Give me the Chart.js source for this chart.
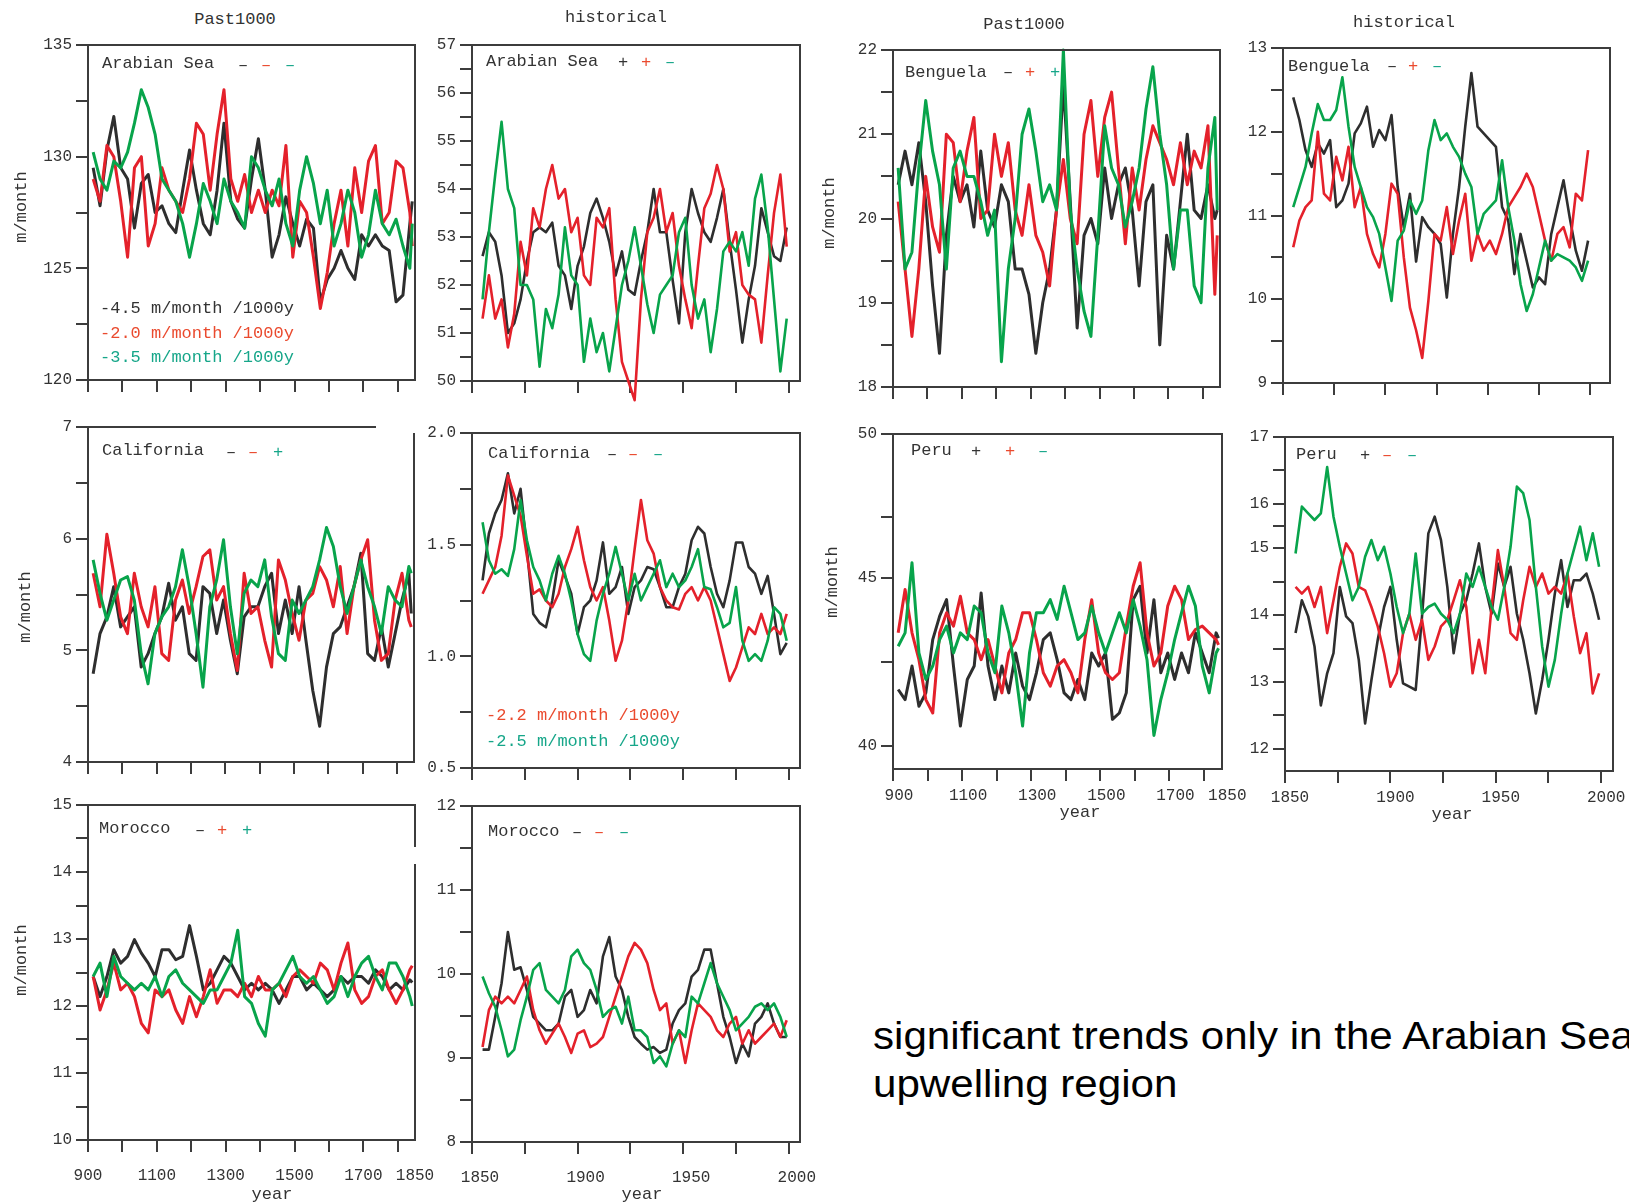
<!DOCTYPE html>
<html>
<head>
<meta charset="utf-8">
<title>Upwelling index, Past1000 and historical</title>
<script src="https://cdn.jsdelivr.net/npm/chart.js@4.4.1/dist/chart.umd.min.js"></script>
<style>
  html, body { margin: 0; padding: 0; background: #fff; }
  body { position: relative; width: 1629px; height: 1204px; overflow: hidden;
         font-family: "Liberation Mono", "DejaVu Sans Mono", monospace; color: #333; }
  canvas { position: absolute; }
  .t { position: absolute; white-space: nowrap; font-size: 17px; line-height: 20px; z-index: 2; }
  .c { transform: translate(-50%, -50%); }
  .l { transform: translateY(-50%); }
  .v { transform: translate(-50%, -50%) rotate(-90deg); }
  .note { position: absolute; left: 873px; top: 1012px; font-family: "Liberation Sans", Arial, sans-serif;
          font-size: 39px; line-height: 48px; color: #000; white-space: nowrap;
          transform: scaleX(1.08); transform-origin: left top; }
</style>
</head>
<body>
<div class="note">significant trends only in the Arabian Sea<br>upwelling region</div>
<script>
/* ===============================
   DATA (m/month)
   =============================== */

const yearsPast = [915, 935, 955, 975, 995, 1015, 1035, 1055, 1075, 1095, 1115, 1135, 1155, 1175, 1195, 1215,
  1235, 1255, 1275, 1295, 1315, 1335, 1355, 1375, 1395, 1415, 1435, 1455, 1475, 1495, 1515, 1535,
  1555, 1575, 1595, 1615, 1635, 1655, 1675, 1695, 1715, 1735, 1755, 1775, 1795, 1815, 1835, 1842];

const yearsHist = [1855, 1858, 1861, 1864, 1867, 1870, 1873, 1876, 1879, 1882, 1885, 1888, 1891, 1894, 1897,
  1900, 1903, 1906, 1909, 1912, 1915, 1918, 1921, 1924, 1927, 1930, 1933, 1936, 1939, 1942, 1945,
  1948, 1951, 1954, 1957, 1960, 1963, 1966, 1969, 1972, 1975, 1978, 1981, 1984, 1987, 1990, 1993, 1996, 1999];

// Arabian Sea
const arabPastBlack = [129.5,127.8,130.3,131.8,129.5,129.0,126.8,128.8,129.2,127.5,127.8,127.0,126.6,128.5,130.3,128.5,
  127.0,126.5,128.5,131.5,128.0,127.2,126.8,129.0,130.8,128.5,125.5,126.5,128.2,127.0,126.0,127.2,
  126.8,123.5,124.5,125.0,125.8,125.0,124.5,126.5,126.0,126.5,126.0,125.8,123.5,123.8,127.0,128.0];
const arabPastRed = [129.0,128.0,130.5,130.0,128.0,125.5,129.5,130.0,126.0,127.0,129.5,128.5,128.0,127.5,129.0,131.5,
  131.0,128.5,131.0,133.0,129.0,128.0,129.2,127.5,128.5,127.5,128.5,127.8,130.5,125.5,128.0,127.5,
  125.5,123.2,124.8,127.0,128.5,126.0,129.5,127.5,129.8,130.5,127.0,127.5,129.8,129.5,127.5,126.0];
const arabPastGreen = [130.2,129.0,128.5,129.8,129.5,130.2,131.5,133.0,132.2,131.0,129.0,128.5,128.0,127.0,125.5,127.0,
  128.8,128.0,127.0,129.0,128.0,127.5,126.8,130.0,129.5,128.5,127.8,129.0,127.0,126.0,128.5,130.0,
  128.8,127.0,128.5,126.0,127.0,128.5,127.5,125.5,126.5,128.5,127.0,126.5,127.2,126.0,125.0,127.0];

const arabHistBlack = [52.6,53.1,52.9,52.2,51.0,51.2,51.7,52.5,53.1,53.2,53.1,53.3,52.4,52.2,51.5,52.4,52.8,
  53.5,53.8,53.4,52.9,52.2,52.7,51.9,51.8,52.5,53.1,54.0,53.1,53.1,52.1,51.2,53.1,54.0,53.5,53.1,
  52.9,53.4,54.0,52.9,51.9,50.8,51.7,52.4,53.6,53.1,52.6,52.5,53.2];
const arabHistRed = [51.3,52.2,51.3,51.7,50.7,51.4,52.9,52.2,53.6,53.2,54.0,54.5,53.8,54.0,53.1,53.4,52.2,
  52.0,53.4,53.2,53.6,51.7,50.4,50.0,49.6,51.7,53.1,53.4,54.0,53.1,53.5,52.4,51.7,51.1,52.4,53.6,
  53.9,54.5,54.0,52.7,53.1,52.0,51.8,51.7,50.8,52.2,53.5,54.3,52.8];
const arabHistGreen = [51.7,53.1,54.3,55.4,54.0,53.6,52.0,52.0,51.7,50.3,51.5,51.1,51.8,53.2,52.2,52.0,50.4,
  51.3,50.6,51.0,50.2,51.1,52.0,52.5,53.2,52.4,51.6,51.0,51.8,52.0,52.2,53.1,53.4,52.0,51.3,51.7,
  50.6,51.5,52.7,52.9,52.7,53.1,52.4,53.8,54.3,53.2,51.7,50.2,51.3];

// Benguela
const bengPastBlack = [20.4,20.8,20.4,20.9,20.2,19.2,18.4,19.8,20.5,20.2,20.4,19.9,20.8,20.1,19.9,20.4,
  20.2,19.4,19.4,19.1,18.4,19.0,19.4,20.1,21.6,20.2,18.7,19.8,20.0,19.7,20.6,20.0,
  20.4,20.6,20.1,19.2,20.2,20.4,18.5,19.8,19.4,20.2,21.0,20.1,20.0,20.4,20.0,20.1];
const bengPastRed = [20.2,19.4,18.6,19.4,20.5,19.9,19.6,21.0,20.9,20.2,20.8,21.2,20.0,20.1,21.0,20.5,
  20.9,20.1,19.8,20.4,19.8,19.6,19.2,20.1,20.7,20.0,19.7,21.0,21.4,20.5,21.2,21.5,
  20.6,19.7,20.6,20.1,20.7,21.1,20.9,20.7,20.4,20.9,20.4,20.8,20.6,21.1,19.1,19.8];
const bengPastGreen = [20.6,19.4,19.6,20.6,21.4,20.8,20.4,19.4,20.6,20.8,20.5,20.5,20.2,19.8,20.1,18.3,
  19.4,20.0,21.0,21.3,20.8,20.2,20.4,20.1,22.0,20.1,19.4,18.9,18.6,19.8,21.1,20.6,
  20.4,19.9,20.2,20.6,21.3,21.8,21.0,20.4,19.4,20.1,20.1,19.2,19.0,20.6,21.2,20.1];

const bengHistBlack = [12.41,12.14,11.78,11.58,11.86,11.74,11.9,11.1,11.18,11.38,11.98,12.1,12.3,11.82,12.02,11.9,
  12.2,11.34,10.86,11.26,10.45,10.98,10.86,10.78,10.66,10.02,10.78,11.34,12.06,12.7,12.06,11.98,
  11.9,11.82,11.1,10.94,10.3,10.78,10.46,10.14,10.26,10.18,10.78,11.1,11.42,10.98,10.58,10.34,10.7];
const bengHistRed = [10.62,10.94,11.1,11.18,12.0,11.26,11.18,11.7,11.42,11.82,11.1,11.34,10.78,10.54,10.38,10.78,
  11.38,11.26,10.5,9.9,9.63,9.3,9.98,10.78,10.7,11.1,10.54,10.94,11.26,10.46,10.78,10.58,
  10.7,10.54,10.78,11.1,11.22,11.34,11.5,11.34,11.02,10.7,10.46,10.78,10.86,10.62,11.26,11.18,11.78];
const bengHistGreen = [11.1,11.34,11.58,11.98,12.33,12.14,12.14,12.26,12.65,12.06,11.58,11.34,11.1,10.98,10.78,10.38,
  9.98,10.7,10.82,11.18,11.02,11.18,11.78,12.14,11.9,11.98,11.82,11.7,11.5,11.34,10.78,11.02,
  11.1,11.18,11.66,11.1,10.7,10.18,9.86,10.06,10.38,10.7,10.46,10.54,10.5,10.46,10.38,10.22,10.46];

// California
const califPastBlack = [4.79,5.15,5.3,5.57,5.21,5.3,5.39,4.85,4.97,5.15,5.3,5.6,5.27,5.39,4.97,4.91,
  5.57,5.51,5.15,5.45,5.09,4.79,5.3,5.39,5.39,5.57,5.69,5.15,5.45,5.15,5.57,5.09,
  4.64,4.32,4.85,5.15,5.21,5.39,5.57,5.87,4.97,4.91,5.21,4.85,5.15,5.45,5.69,5.33];
const califPastRed = [5.69,5.39,6.04,5.69,5.3,5.15,5.69,5.39,5.21,5.57,4.97,4.91,5.45,5.63,5.33,5.57,
  5.84,5.9,5.45,5.57,5.15,4.82,5.69,5.33,5.39,5.09,4.85,5.81,5.63,5.33,5.09,5.45,
  5.51,5.75,5.63,5.39,5.75,5.15,5.57,5.81,5.99,5.27,4.91,4.97,5.45,5.69,5.27,5.21];
const califPastGreen = [5.81,5.51,5.27,5.45,5.63,5.66,5.45,4.97,4.7,5.15,5.3,5.39,5.57,5.9,5.57,5.15,
  4.67,5.39,5.63,5.99,5.39,4.97,5.51,5.63,5.57,5.81,5.3,4.97,4.91,5.45,5.33,5.45,
  5.57,5.81,6.1,5.93,5.57,5.33,5.57,5.81,5.57,5.39,5.15,5.57,5.45,5.39,5.75,5.69];

const califHistBlack = [1.34,1.55,1.64,1.7,1.82,1.64,1.75,1.48,1.19,1.15,1.13,1.25,1.43,1.36,1.28,1.1,1.22,
  1.25,1.34,1.51,1.28,1.31,1.4,1.19,1.31,1.34,1.4,1.39,1.31,1.22,1.22,1.31,1.37,1.52,1.58,1.55,
  1.4,1.28,1.22,1.34,1.51,1.51,1.4,1.37,1.28,1.36,1.19,1.01,1.06];
const califHistRed = [1.28,1.34,1.4,1.54,1.81,1.72,1.63,1.45,1.28,1.3,1.25,1.22,1.28,1.4,1.48,1.58,1.43,
  1.31,1.25,1.31,1.16,0.98,1.07,1.25,1.48,1.7,1.52,1.46,1.31,1.25,1.22,1.21,1.28,1.31,1.25,1.31,
  1.25,1.13,1.01,0.89,0.95,1.04,1.13,1.1,1.19,1.1,1.13,1.1,1.19];
const califHistGreen = [1.6,1.43,1.37,1.39,1.36,1.48,1.7,1.52,1.4,1.34,1.25,1.37,1.45,1.37,1.25,1.1,1.01,
  0.98,1.16,1.28,1.37,1.49,1.37,1.25,1.37,1.25,1.31,1.37,1.43,1.31,1.37,1.31,1.34,1.4,1.48,1.31,
  1.3,1.22,1.13,1.15,1.31,1.07,0.98,1.01,0.98,1.07,1.22,1.19,1.07];

// Peru
const peruPastBlack = [41.67,41.37,42.37,41.17,41.57,43.16,43.86,44.35,42.37,40.58,41.97,42.37,44.55,42.37,41.37,42.37,
  41.57,42.76,41.77,41.37,42.17,43.16,43.36,42.56,41.57,41.37,41.97,41.37,42.76,42.37,42.76,40.78,
  40.97,41.57,44.35,44.75,42.76,44.35,42.17,42.76,41.97,42.76,42.17,43.36,42.76,42.17,43.36,43.2];
const peruPastRed = [43.36,44.65,43.36,42.56,41.37,40.97,43.36,43.96,43.56,44.45,43.36,43.16,42.56,43.16,42.37,41.57,
  42.76,43.16,43.96,43.96,43.16,42.17,41.77,42.37,42.56,42.17,41.57,43.16,44.35,42.76,42.17,41.97,
  42.17,43.56,44.75,45.45,43.36,42.37,42.76,44.16,44.75,44.35,43.16,43.46,43.56,43.36,43.16,43.0];
const peruPastGreen = [42.96,43.36,45.45,42.76,41.97,42.37,43.16,43.56,42.76,43.36,43.16,44.16,43.96,42.76,42.17,44.16,
  43.36,42.17,40.58,42.76,43.96,43.96,44.35,43.76,44.75,43.96,43.16,43.36,44.16,43.36,42.76,43.36,
  43.96,43.36,44.35,43.56,42.56,40.3,41.37,42.17,43.16,43.96,44.75,44.16,42.37,41.57,42.76,42.9];

const peruHistBlack = [13.73,14.22,13.98,13.53,12.65,13.13,13.43,14.42,13.98,13.88,13.33,12.38,13.03,13.63,14.12,14.42,
  13.63,12.98,12.93,12.88,13.98,15.22,15.47,15.12,14.42,13.43,14.02,14.22,14.62,15.07,14.42,14.02,
  14.77,14.42,14.72,14.02,13.63,13.13,12.53,13.03,13.63,14.32,14.82,14.12,14.52,14.52,14.62,14.32,13.93];
const peruHistRed = [14.42,14.32,14.42,14.12,14.42,13.73,14.22,14.72,15.07,14.92,14.42,14.37,14.12,13.83,13.43,12.93,
  13.13,13.73,14.02,13.63,13.93,13.33,13.53,13.83,13.93,14.22,14.52,14.12,13.13,13.63,13.13,14.12,
  14.97,14.42,13.73,13.63,14.22,14.72,14.42,14.62,14.32,14.42,14.32,14.62,13.98,13.43,13.73,12.83,13.13];
const peruHistGreen = [14.92,15.62,15.52,15.42,15.52,16.21,15.47,15.02,14.62,14.22,14.42,14.87,15.12,14.82,15.02,14.62,
  14.12,13.73,14.02,14.92,14.02,14.12,14.17,14.02,13.93,13.73,14.02,14.62,14.42,14.72,14.42,14.12,
  13.93,14.42,15.02,15.92,15.82,15.42,14.42,13.53,12.93,13.33,14.02,14.62,14.97,15.32,14.82,15.22,14.72];

// Morocco
const morPastBlack = [12.44,12.14,12.44,12.84,12.64,12.74,12.99,12.79,12.64,12.44,12.84,12.84,12.69,12.74,13.2,12.74,
  12.24,12.34,12.54,12.74,12.64,12.44,12.24,12.34,12.24,12.34,12.24,12.04,12.24,12.44,12.44,12.24,
  12.34,12.24,12.14,12.24,12.44,12.34,12.44,12.44,12.34,12.54,12.44,12.24,12.34,12.24,12.39,12.35];
const morPastRed = [12.44,11.94,12.24,12.64,12.24,12.34,12.14,11.74,11.6,12.24,12.14,12.24,11.94,11.74,12.14,11.84,
  12.14,12.54,12.04,12.24,12.24,12.14,12.34,12.14,12.44,12.24,12.24,12.34,12.14,12.44,12.54,12.44,
  12.34,12.64,12.54,12.24,12.64,12.94,12.24,12.04,12.14,12.44,12.54,12.24,12.04,12.24,12.54,12.6];
const morPastGreen = [12.44,12.64,12.14,12.74,12.44,12.34,12.24,12.34,12.24,12.44,12.14,12.44,12.54,12.34,12.24,12.14,
  12.04,12.24,12.24,12.44,12.64,13.13,12.14,12.04,11.74,11.55,12.24,12.34,12.54,12.74,12.44,12.34,
  12.44,12.24,12.04,12.14,12.44,12.14,12.44,12.64,12.74,12.44,12.24,12.64,12.64,12.44,12.14,12.0];

const morHistBlack = [9.1,9.1,9.49,9.89,10.5,10.05,10.08,9.81,9.49,9.41,9.33,9.33,9.41,9.73,9.81,9.49,9.57,
  9.81,9.65,10.21,10.44,9.97,9.81,9.49,9.25,9.17,9.1,9.13,9.06,9.1,9.41,9.57,9.65,9.97,10.05,10.29,
  10.29,9.89,9.49,9.25,8.94,9.17,9.02,9.41,9.49,9.65,9.41,9.25,9.25];
const morHistRed = [9.13,9.57,9.73,9.65,9.73,9.65,9.81,9.97,9.57,9.33,9.17,9.29,9.41,9.25,9.06,9.29,9.33,
  9.13,9.17,9.25,9.49,9.73,9.97,10.21,10.37,10.29,10.13,9.81,9.57,9.65,9.17,9.33,8.94,9.33,9.65,9.57,
  9.49,9.33,9.25,9.41,9.49,9.17,9.33,9.17,9.25,9.33,9.41,9.25,9.45];
const morHistGreen = [9.97,9.77,9.61,9.33,9.02,9.1,9.45,9.73,10.05,10.13,9.81,9.73,9.65,9.81,10.21,10.29,10.13,
  10.05,9.81,9.49,9.57,9.61,9.41,9.73,9.33,9.33,9.25,8.94,9.02,8.9,9.17,9.33,9.25,9.73,9.65,9.89,
  10.13,9.89,9.73,9.57,9.33,9.41,9.49,9.61,9.65,9.57,9.65,9.49,9.25];

// axis ticks and labels
const pastTicks = [900, 1000, 1100, 1200, 1300, 1400, 1500, 1600, 1700, 1800, 1850];
const pastTickLabels = [900, 1100, 1300, 1500, 1700, 1850];
const histTicks = [1850, 1875, 1900, 1925, 1950, 1975, 2000];
const histTickLabels = [1850, 1900, 1950, 2000];

const arabPastY = [120, 122.5, 125, 127.5, 130, 132.5, 135];
const arabPastYLabels = ['120', '', '125', '', '130', '', '135'];
const arabHistY = [50, 50.5, 51, 51.5, 52, 52.5, 53, 53.5, 54, 54.5, 55, 55.5, 56, 56.5, 57];
const arabHistYLabels = ['50', '', '51', '', '52', '', '53', '', '54', '', '55', '', '56', '', '57'];
const bengPastY = [18, 18.5, 19, 19.5, 20, 20.5, 21, 21.5, 22];
const bengPastYLabels = ['18', '', '19', '', '20', '', '21', '', '22'];
const bengHistY = [9, 9.5, 10, 10.5, 11, 11.5, 12, 12.5, 13];
const bengHistYLabels = ['9', '', '10', '', '11', '', '12', '', '13'];
const califPastY = [4, 4.5, 5, 5.5, 6, 6.5, 7];
const califPastYLabels = ['4', '', '5', '', '6', '', '7'];
const califHistY = [0.5, 0.75, 1.0, 1.25, 1.5, 1.75, 2.0];
const califHistYLabels = ['0.5', '', '1.0', '', '1.5', '', '2.0'];
const peruPastY = [40, 42.5, 45, 46.81, 49.29];
const peruPastYLabels = ['40', '', '45', '', '50'];
const peruHistY = [12, 12.5, 13, 13.5, 14, 14.5, 15, 15.33, 15.66, 16.16, 16.66];
const peruHistYLabels = ['12', '', '13', '', '14', '', '15', '', '16', '', '17'];
const morPastY = [10, 10.5, 11, 11.5, 12, 12.5, 13, 13.5, 14, 14.5, 15];
const morPastYLabels = ['10', '', '11', '', '12', '', '13', '', '14', '', '15'];
const morHistY = [8, 8.5, 9, 9.5, 10, 10.5, 11, 11.5, 12];
const morHistYLabels = ['8', '', '9', '', '10', '', '11', '', '12'];

/* ------------------------------
   STYLE
--------------------------------*/
const COL = { black: '#2e2e2e', red: '#e4212b', green: '#08a44b' };
const SIGN = { k: '#333333', r: '#ea4a2e', g: '#16a689' };
const AXIS = '#3c3c3c';
const FONT = { family: 'Liberation Mono', size: 16 };

// box outline: top and right sides (some panels have gaps in the original)
const frame = {
  id: 'frame',
  afterDraw(chart, args, o) {
    const { ctx, chartArea: a } = chart;
    ctx.save();
    ctx.strokeStyle = AXIS;
    ctx.lineWidth = 2;
    ctx.beginPath();
    ctx.moveTo(a.left, a.top);
    ctx.lineTo(o.topEnd != null ? o.topEnd : a.right, a.top);
    const rs = o.rightStart != null ? o.rightStart : a.top - 1;
    if (o.rightGap) {
      ctx.moveTo(a.right, rs); ctx.lineTo(a.right, o.rightGap[0]);
      ctx.moveTo(a.right, o.rightGap[1]); ctx.lineTo(a.right, a.bottom);
    } else {
      ctx.moveTo(a.right, rs); ctx.lineTo(a.right, a.bottom);
    }
    ctx.stroke();
    ctx.restore();
  }
};

/* ------------------------------
   ONE PANEL = ONE CHART
--------------------------------*/
function panel(p) {
  const L = 70, T = 14, R = 30, B = 56;
  const w = p.box[2] - p.box[0], h = p.box[3] - p.box[1];
  const ox = p.box[0] - L, oy = p.box[1] - T;

  const cv = document.createElement('canvas');
  cv.width = w + L + R;
  cv.height = h + T + B;
  cv.style.left = ox + 'px';
  cv.style.top = oy + 'px';
  cv.style.width = cv.width + 'px';
  cv.style.height = cv.height + 'px';
  document.body.appendChild(cv);

  const f = {};
  if (p.topEnd) f.topEnd = p.topEnd - ox;
  if (p.rightStart) f.rightStart = p.rightStart - oy;
  if (p.rightGap) f.rightGap = p.rightGap.map(v => v - oy);

  // the 1000-year runs are drawn a bit heavier: they are much noisier in the original
  const lw = p.xMin === 900 ? 3 : 2.6;
  const series = [['green', p.green], ['red', p.red], ['black', p.black]];
  const datasets = series.map(([c, vals]) => ({
    data: p.years.map((x, i) => ({ x: x, y: vals[i] })),
    borderColor: COL[c],
    borderWidth: lw,
    pointRadius: 0,
    tension: 0,
    clip: false,
    borderJoinStyle: 'round'
  }));

  new Chart(cv, {
    type: 'line',
    data: { datasets },
    plugins: [frame],
    options: {
      responsive: false,
      animation: false,
      events: [],
      layout: { padding: { left: 0, top: T, right: R, bottom: 0 } },
      plugins: { legend: { display: false }, tooltip: { enabled: false }, frame: f },
      scales: {
        x: {
          type: 'linear',
          min: p.xMin, max: p.xMax,
          afterBuildTicks: s => { s.ticks = p.xTicks.map(v => ({ value: v })); },
          afterFit: s => { s.height = B; s.paddingLeft = 0; s.paddingRight = 0; },
          ticks: {
            autoSkip: false, maxRotation: 0, font: FONT, color: '#333',
            padding: p.xPad || 5, labelOffset: p.xOff || 0,
            callback: v => (p.xLabels && p.xLabels.includes(v)) ? String(v) : ''
          },
          grid: {
            drawOnChartArea: false, tickLength: 12, lineWidth: 2,
            color: c => (c.tick && c.tick.value === 1850 && p.xMin === 900) ? 'rgba(0,0,0,0)' : AXIS
          },
          border: { display: true, color: AXIS, width: 2 }
        },
        y: {
          min: p.yMin, max: p.yMax,
          afterBuildTicks: s => { s.ticks = p.yTicks.map(v => ({ value: v })); },
          afterFit: s => { s.width = L; s.paddingTop = 0; s.paddingBottom = 0; },
          ticks: {
            autoSkip: false, font: FONT, color: '#333', padding: 4,
            callback: (v, i) => p.yLabels[i]
          },
          grid: { drawOnChartArea: false, tickLength: 12, lineWidth: 2, color: AXIS },
          border: { display: true, color: AXIS, width: 2 }
        }
      }
    }
  });
}

panel({ box: [88, 45, 415, 380], years: yearsPast, black: arabPastBlack, red: arabPastRed, green: arabPastGreen,
  xMin: 900, xMax: 1850, xTicks: pastTicks, yMin: 120, yMax: 135, yTicks: arabPastY, yLabels: arabPastYLabels });
panel({ box: [472, 45, 800, 381], years: yearsHist, black: arabHistBlack, red: arabHistRed, green: arabHistGreen,
  xMin: 1850, xMax: 2005.3, xTicks: histTicks, yMin: 50, yMax: 57, yTicks: arabHistY, yLabels: arabHistYLabels });
panel({ box: [893, 50, 1220, 387], years: yearsPast, black: bengPastBlack, red: bengPastRed, green: bengPastGreen,
  xMin: 900, xMax: 1850, xTicks: pastTicks, yMin: 18, yMax: 22, yTicks: bengPastY, yLabels: bengPastYLabels });
panel({ box: [1283, 48, 1610, 383], years: yearsHist, black: bengHistBlack, red: bengHistRed, green: bengHistGreen,
  xMin: 1850, xMax: 2009.7, xTicks: histTicks, yMin: 9, yMax: 13, yTicks: bengHistY, yLabels: bengHistYLabels });
panel({ box: [88, 427, 414, 762], years: yearsPast, black: califPastBlack, red: califPastRed, green: califPastGreen,
  xMin: 900, xMax: 1850, xTicks: pastTicks, yMin: 4, yMax: 7, yTicks: califPastY, yLabels: califPastYLabels,
  topEnd: 376, rightStart: 433 });
panel({ box: [472, 433, 800, 768], years: yearsHist, black: califHistBlack, red: califHistRed, green: califHistGreen,
  xMin: 1850, xMax: 2005.3, xTicks: histTicks, yMin: 0.5, yMax: 2.0, yTicks: califHistY, yLabels: califHistYLabels });
panel({ box: [893, 434, 1222, 769], years: yearsPast, black: peruPastBlack, red: peruPastRed, green: peruPastGreen,
  xMin: 900, xMax: 1852, xTicks: pastTicks, xLabels: pastTickLabels, xPad: 5, xOff: 6,
  yMin: 39.3, yMax: 49.29, yTicks: peruPastY, yLabels: peruPastYLabels });
panel({ box: [1285, 437, 1613, 771], years: yearsHist, black: peruHistBlack, red: peruHistRed, green: peruHistGreen,
  xMin: 1850, xMax: 2005.6, xTicks: histTicks, xLabels: histTickLabels, xPad: 5, xOff: 5,
  yMin: 11.67, yMax: 16.66, yTicks: peruHistY, yLabels: peruHistYLabels });
panel({ box: [88, 805, 415, 1140], years: yearsPast, black: morPastBlack, red: morPastRed, green: morPastGreen,
  xMin: 900, xMax: 1850, xTicks: pastTicks, xLabels: pastTickLabels, xPad: 14, xOff: 0,
  yMin: 10, yMax: 15, yTicks: morPastY, yLabels: morPastYLabels, rightGap: [847, 864] });
panel({ box: [472, 806, 800, 1142], years: yearsHist, black: morHistBlack, red: morHistRed, green: morHistGreen,
  xMin: 1850, xMax: 2005.3, xTicks: histTicks, xLabels: histTickLabels, xPad: 14, xOff: 8,
  yMin: 8, yMax: 12, yTicks: morHistY, yLabels: morHistYLabels });

/* ------------------------------
   TEXT (titles, region names, trends)
--------------------------------*/
function put(text, x, y, cls, color) {
  const d = document.createElement('div');
  d.className = 't ' + cls;
  d.textContent = text;
  d.style.left = x + 'px';
  d.style.top = y + 'px';
  if (color) d.style.color = color;
  document.body.appendChild(d);
}

put('Past1000', 235, 20, 'c');
put('historical', 616, 18, 'c');
put('Past1000', 1024, 25, 'c');
put('historical', 1404, 23, 'c');

[[22, 207], [830, 213], [26, 607], [833, 582], [22, 960]].forEach(([x, y]) => put('m/month', x, y, 'v'));
[[272, 1195], [642, 1195], [1080, 813], [1452, 815]].forEach(([x, y]) => put('year', x, y, 'c'));

[['Arabian Sea', 102, 64], ['Arabian Sea', 486, 62], ['Benguela', 905, 73], ['Benguela', 1288, 67],
 ['California', 102, 451], ['California', 488, 454], ['Peru', 911, 451], ['Peru', 1296, 455],
 ['Morocco', 99, 829], ['Morocco', 488, 832]].forEach(([s, x, y]) => put(s, x, y, 'l'));

[['–', 'k', 243, 66], ['–', 'r', 266, 66], ['–', 'g', 290, 66],
 ['+', 'k', 623, 63], ['+', 'r', 646, 63], ['–', 'g', 670, 63],
 ['–', 'k', 1008, 73], ['+', 'r', 1030, 73], ['+', 'g', 1055, 73],
 ['–', 'k', 1392, 67], ['+', 'r', 1413, 67], ['–', 'g', 1437, 67],
 ['–', 'k', 231, 453], ['–', 'r', 253, 453], ['+', 'g', 278, 453],
 ['–', 'k', 612, 455], ['–', 'r', 633, 455], ['–', 'g', 658, 455],
 ['+', 'k', 976, 452], ['+', 'r', 1010, 452], ['–', 'g', 1043, 452],
 ['+', 'k', 1365, 456], ['–', 'r', 1387, 456], ['–', 'g', 1412, 456],
 ['–', 'k', 200, 831], ['+', 'r', 222, 831], ['+', 'g', 247, 831],
 ['–', 'k', 577, 833], ['–', 'r', 599, 833], ['–', 'g', 624, 833]
].forEach(([s, c, x, y]) => put(s, x, y, 'c', SIGN[c]));

put('-4.5 m/month /1000y', 100, 309, 'l', SIGN.k);
put('-2.0 m/month /1000y', 100, 334, 'l', SIGN.r);
put('-3.5 m/month /1000y', 100, 358, 'l', SIGN.g);
put('-2.2 m/month /1000y', 486, 716, 'l', SIGN.r);
put('-2.5 m/month /1000y', 486, 742, 'l', SIGN.g);
</script>
</body>
</html>
